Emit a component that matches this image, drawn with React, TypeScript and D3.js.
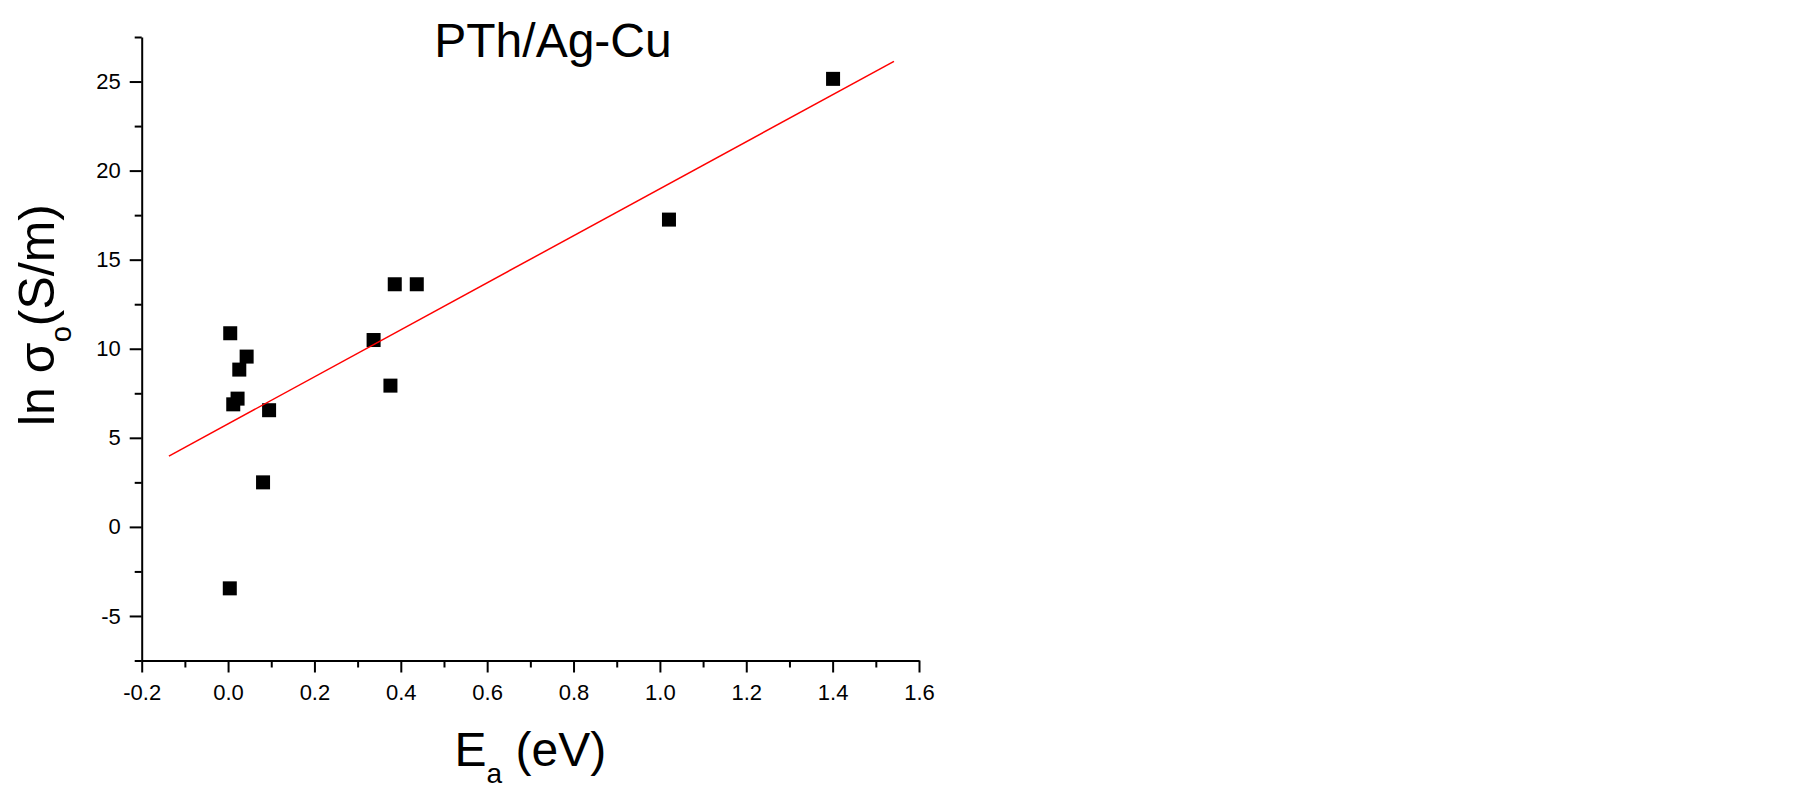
import React, { useEffect, useRef } from 'react';
import * as d3 from 'd3';

const chartTitle = 'PTh/Ag-Cu';

// activation energy (eV) vs ln sigma_0 (S/m)
const eaValues = [0.005, 0.043, 0.026, 0.022, 0.012, 0.095, 0.081, 0.004, 0.337, 0.376, 0.386, 0.437, 1.021, 1.401];
const lnSigmaValues = [10.87, 9.56, 8.83, 7.2, 6.88, 6.55, 2.5, -3.45, 10.49, 7.93, 13.62, 13.62, 17.25, 25.15];

const xTicks = [-0.2, 0, 0.2, 0.4, 0.6, 0.8, 1.0, 1.2, 1.4, 1.6];
const xMinorTicks = [-0.1, 0.1, 0.3, 0.5, 0.7, 0.9, 1.1, 1.3, 1.5];
const yTicks = [-5, 0, 5, 10, 15, 20, 25];
const yMinorTicks = [-7.5, -2.5, 2.5, 7.5, 12.5, 17.5, 22.5, 27.5];

// x span of the linear fit line
const fitRange = [-0.137, 1.542];

const FONT = "'Liberation Sans', Arial, sans-serif";

const App = () => {
  const svgRef = useRef(null);
  const width = 1799;
  const height = 790;

  useEffect(() => {
    if (!svgRef.current) return;
    const svg = d3.select(svgRef.current);
    svg.selectAll('*').remove();

    const margin = { top: 37, right: 880, bottom: 129.5, left: 141.7 };

    const x = d3.scaleLinear()
      .domain([-0.2, 1.6])
      .range([margin.left, width - margin.right]);

    const y = d3.scaleLinear()
      .domain([-7.5, 27.5])
      .range([height - margin.bottom, margin.top]);

    const styleAxis = (g) => {
      g.attr('font-family', FONT).attr('font-size', 22);
      g.selectAll('.domain').attr('stroke', '#000').attr('stroke-width', 2);
      g.selectAll('line').attr('stroke', '#000').attr('stroke-width', 2);
      g.selectAll('text').attr('fill', '#000');
    };

    // x axis
    const xAxis = svg.append('g')
      .attr('transform', `translate(0,${y(-7.5)})`)
      .call(d3.axisBottom(x).tickValues(xTicks).tickSize(12).tickPadding(12).tickSizeOuter(0)
        .tickFormat(d => (+d).toFixed(1)));
    styleAxis(xAxis);

    const xMinor = svg.append('g')
      .attr('transform', `translate(0,${y(-7.5)})`)
      .call(d3.axisBottom(x).tickValues(xMinorTicks).tickSize(7).tickFormat(''));
    xMinor.select('.domain').remove();
    styleAxis(xMinor);

    // y axis
    const yAxis = svg.append('g')
      .attr('transform', `translate(${x(-0.2)},0)`)
      .call(d3.axisLeft(y).tickValues(yTicks).tickSize(12).tickPadding(9).tickSizeOuter(0)
        .tickFormat(d => String(d)));
    styleAxis(yAxis);

    const yMinor = svg.append('g')
      .attr('transform', `translate(${x(-0.2)},0)`)
      .call(d3.axisLeft(y).tickValues(yMinorTicks).tickSize(7).tickFormat(''));
    yMinor.select('.domain').remove();
    styleAxis(yMinor);

    // points
    const pts = eaValues.map((v, i) => ({ ea: v, ln: lnSigmaValues[i] }));
    const size = 14;
    svg.append('g')
      .selectAll('rect')
      .data(pts)
      .join('rect')
      .attr('x', d => x(d.ea) - size / 2)
      .attr('y', d => y(d.ln) - size / 2)
      .attr('width', size)
      .attr('height', size)
      .attr('fill', '#000');

    // least squares fit
    const mx = d3.mean(eaValues);
    const my = d3.mean(lnSigmaValues);
    const slope = d3.sum(eaValues.map((v, i) => (v - mx) * (lnSigmaValues[i] - my))) /
      d3.sum(eaValues.map(v => (v - mx) ** 2));
    const intercept = my - slope * mx;

    const line = d3.line()
      .x(d => x(d))
      .y(d => y(intercept + slope * d));

    svg.append('path')
      .attr('d', line(fitRange))
      .attr('fill', 'none')
      .attr('stroke', '#ff0000')
      .attr('stroke-width', 1.5);

    // title
    svg.append('text')
      .attr('x', 553)
      .attr('y', 57)
      .attr('text-anchor', 'middle')
      .attr('font-family', FONT)
      .attr('font-size', 48)
      .attr('fill', '#000')
      .text(chartTitle);

    // x label
    const xl = svg.append('text')
      .attr('x', (x.range()[0] + x.range()[1]) / 2)
      .attr('y', 766)
      .attr('text-anchor', 'middle')
      .attr('font-family', FONT)
      .attr('font-size', 48)
      .attr('fill', '#000');
    xl.append('tspan').text('E');
    xl.append('tspan').attr('font-size', 28).attr('dy', 17).text('a');
    xl.append('tspan').attr('dy', -17).text(' (eV)');

    // y label
    const yl = svg.append('text')
      .attr('transform', 'translate(54,315) rotate(-90)')
      .attr('text-anchor', 'middle')
      .attr('font-family', FONT)
      .attr('font-size', 50)
      .attr('fill', '#000');
    yl.append('tspan').text('ln σ');
    yl.append('tspan').attr('font-size', 29).attr('dy', 17).text('o');
    yl.append('tspan').attr('dy', -17).text('(S/m)');
  }, []);

  return (
    <svg
      ref={svgRef}
      width={width}
      height={height}
      style={{ position: 'absolute', left: 0, top: 0, background: '#fff' }}
    />
  );
};

export default App;
